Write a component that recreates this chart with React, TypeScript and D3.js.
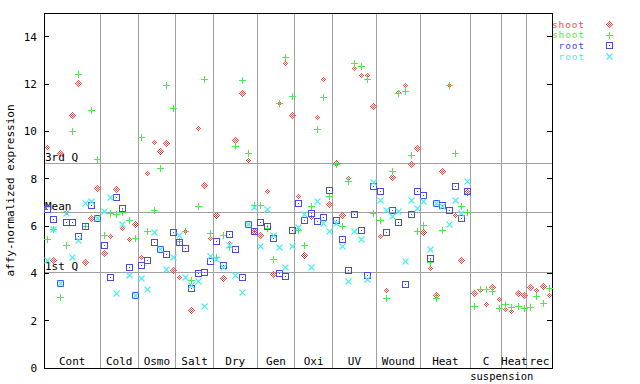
import React from "react";
import * as d3 from "d3";

// sample groups along the x axis (one column per sample)
const groups = ["Cont", "Cold", "Osmo", "Salt", "Dry", "Gen", "Oxi", "UV", "Wound", "Heat", "C", "Heat", "rec"];
const groupSizes = [9, 6, 6, 6, 7, 6, 6, 7, 7, 8, 5, 4, 4];

// shoot replicate 1 (red diamond)
const shootA = [
  9.33, 4.55, 9.07, 6.6, 10.67, 12.06, 4.47, 6.32, 7.6,
  4.88, 5.56, 7.55, 5.93, 5.43, 6.08,
  4.67, 8.22, 9.57, 9.15, 9.49, 4.12,
  3.83, 5.77, 2.45, 10.13, 7.72, 5.48,
  6.45, 3.79, 5.27, 9.63, 11.6, 8.77, 5.77,
  5.6, 7.5, 3.97, 11.18, 12.9, 10.67,
  7.25, 4.76, 6.36, 10.59, 12.23, 6.95,
  8.68, 6.45, 8.01, 12.68, 12.36, 12.36, 11.09,
  5.56, 3.29, 8.09, 11.67, 11.95, 8.64, 9.28,
  5.73, 4.21, 3.08, 8.31, 11.95, 6.46, 4.55, 7.42,
  3.19, 3.29, 2.69, 3.41, 2.9,
  2.49, 2.39, 3.17, 3.07,
  3.42, 3.29, 3.46, 3.07,
];
// shoot replicate 2 (green plus)
const shootB = [
  5.45, 5.88, 3.01, 5.18, 10.0, 12.44, 6.02, 10.92, 8.85,
  5.6, 6.57, 6.49, 6.59, 6.24, 5.48,
  9.74, 5.77, 6.66, 8.47, 11.94, 10.97,
  5.35, 5.77, 3.72, 6.83, 12.23, 5.69,
  4.68, 5.6, 5.1, 9.38, 12.19, 9.07, 6.87,
  6.87, 5.9, 4.59, 11.18, 13.12, 11.49,
  5.83, 5.18, 6.83, 10.08, 11.47, 7.25,
  8.61, 5.98, 7.92, 12.87, 12.75, 12.23, 6.53,
  6.24, 2.94, 8.31, 11.6, 11.71, 9.02, 5.77,
  6.04, 4.48, 2.94, 5.81, 11.95, 9.07, 6.84, 6.6,
  2.6, 3.33, 3.33, 3.24, 2.53,
  2.7, 2.57, 2.6, 2.55,
  2.57, 3.03, 2.73, 3.38,
];
// root replicate 1 (blue square)
const rootA: (number | null)[] = [
  6.73, 6.28, 3.6, 6.15, 6.15, 5.56, 6.02, 6.87, 6.32,
  5.18, 3.86, 7.22, 6.78, 4.25, 3.08,
  4.35, 4.55, 5.31, 5.02, 4.8, 5.76,
  5.31, 5.05, 3.36, 4.0, 4.04, 4.51,
  5.35, 4.36, 5.65, 5.01, 3.83, 6.07, 5.77,
  6.15, 5.98, 5.48, 4.0, 3.87, 5.83,
  6.99, 6.24, 6.53, 6.21, 6.4, 7.54,
  6.25, 5.43, 4.12, 6.49, 5.85, 3.95, 7.67,
  7.5, 5.73, 6.66, 6.15, 3.57, 6.49, 7.5,
  7.29, 4.63, 6.99, 6.9, 6.66, 7.67, 6.32, 7.5,
  null, null, null, null, null,
  null, null, null, null,
  null, null, null, null,
];
// root replicate 2 (cyan cross)
const rootB: (number | null)[] = [
  4.55, 5.88, 3.6, 6.57, 4.67, 5.4, 6.99, 7.04, 6.32,
  6.64, 7.22, 3.15, 6.07, 3.93, 3.08,
  3.79, 3.33, 5.73, 5.02, 4.17, 4.69,
  5.64, 3.83, 3.51, 3.66, 2.64, 4.75,
  4.59, 4.25, 5.2, 3.94, 3.2, 6.07, 6.8,
  5.14, 6.7, 5.6, 5.1, 4.25, 5.14,
  5.94, 6.5, 4.28, 7.05, 6.11, 5.77,
  6.11, 5.14, 3.66, 5.77, 5.43, 3.76, 7.84,
  7.08, 6.66, 6.42, 6.62, 4.5, 7.08, 6.78,
  7.04, 5.01, 6.99, 6.85, 6.07, 7.08, 6.57, 7.9,
  null, null, null, null, null,
  null, null, null, null,
  null, null, null, null,
];

const quartiles = [
  { label: "3rd Q", value: 8.65 },
  { label: "Mean", value: 6.58 },
  { label: "1st Q", value: 4.04 },
];

const yTicks = [0, 2, 4, 6, 8, 10, 12, 14];

const RED = "#ff4848";
const GREEN = "#48ee48";
const BLUE = "#4848ee";
const CYAN = "#48eeee";
const GRID = "#a0a0a0";
const FONT = "'DejaVu Sans Mono', monospace";

const series = [
  { name: "shoot", values: shootA, color: RED, shape: "diamond" },
  { name: "shoot", values: shootB, color: GREEN, shape: "plus" },
  { name: "root", values: rootA, color: BLUE, shape: "square" },
  { name: "root", values: rootB, color: CYAN, shape: "cross" },
];

const Marker = ({ shape, cx, cy, color }: { shape: string; cx: number; cy: number; color: string }) => {
  const x = Math.round(cx) + 0.5;
  const y = Math.round(cy) + 0.5;
  if (shape === "diamond") {
    return (
      <path
        d={`M${x},${y - 3.5}L${x + 3.5},${y}L${x},${y + 3.5}L${x - 3.5},${y}Z`}
        fill="url(#chk)"
        stroke="none"
      />
    );
  }
  if (shape === "plus") {
    return (
      <path d={`M${x - 3.5},${y}H${x + 3.5}M${x},${y - 3.5}V${y + 3.5}`} stroke={color} strokeWidth={1} />
    );
  }
  if (shape === "square") {
    return (
      <g>
        <rect x={x - 3} y={y - 3} width={6} height={6} fill="none" stroke={color} strokeWidth={1.3} />
        <rect x={x - 0.5} y={y - 0.5} width={1} height={1} fill={color} />
      </g>
    );
  }
  return (
    <path
      d={`M${x - 3},${y - 3}L${x + 3},${y + 3}M${x + 3},${y - 3}L${x - 3},${y + 3}`}
      stroke={color}
      strokeWidth={1.1}
      shapeRendering="auto"
    />
  );
};

export default function App() {
  const width = 640;
  const height = 384;
  const margin = { top: 13, right: 88, bottom: 16, left: 44 };
  const nSamples = d3.sum(groupSizes);

  const x = d3.scaleLinear().domain([0, nSamples]).range([margin.left, width - margin.right]);
  const y = d3.scaleLinear().domain([0, 15]).range([height - margin.bottom, margin.top]);

  const bounds = d3.cumsum(groupSizes);
  const starts = [0, ...Array.from(bounds).slice(0, -1)];

  const x0 = x(0), x1 = x(nSamples), y0 = y(0), y1 = y(15);

  return (
    <svg width={width} height={height} style={{ position: "absolute", left: 0, top: 0, background: "white" }}>
      <defs>
        <pattern id="chk" width={2} height={2} patternUnits="userSpaceOnUse">
          <rect x={0} y={0} width={1} height={1} fill={RED} />
          <rect x={1} y={1} width={1} height={1} fill={RED} />
        </pattern>
      </defs>
      <g shapeRendering="crispEdges">
        {/* group separators */}
        {Array.from(bounds).slice(0, -1).map((b, i) => (
          <line key={i} x1={x(b)} x2={x(b)} y1={y1} y2={y0} stroke={GRID} strokeWidth={1} />
        ))}
        {/* quartile lines */}
        {quartiles.map((q) => (
          <line key={q.label} x1={x0} x2={x1} y1={y(q.value)} y2={y(q.value)} stroke={GRID} strokeWidth={1} />
        ))}
        {/* frame */}
        <rect x={x0} y={y1} width={x1 - x0} height={y0 - y1} fill="none" stroke="black" strokeWidth={1} />
        {yTicks.map((t) => (
          <g key={t}>
            <line x1={x0} x2={x0 + 5} y1={y(t)} y2={y(t)} stroke="black" />
            <line x1={x1 - 5} x2={x1} y1={y(t)} y2={y(t)} stroke="black" />
          </g>
        ))}
      </g>
      <g fontFamily={FONT} fontSize={11} fill="black">
        {yTicks.map((t) => (
          <text key={t} x={x0 - 7} y={y(t) + 4} textAnchor="end">{t}</text>
        ))}
        <text transform={`translate(14,${(y0 + y1) / 2}) rotate(-90)`} textAnchor="middle">affy-normalized expression</text>
        {quartiles.map((q) => (
          <text key={q.label} x={x0 + 1} y={y(q.value) - 2}>{q.label}</text>
        ))}
        {groups.map((g, i) => (
          <text key={i} x={x(starts[i] + groupSizes[i] / 2)} y={y0 - 3} textAnchor="middle">{g}</text>
        ))}
        <text x={x(bounds[10])} y={y0 + 12} fontSize={10.5} textAnchor="middle">suspension</text>
      </g>
      {/* points */}
      <g shapeRendering="crispEdges">
        {series.map((s, si) =>
          s.values.map((v, i) =>
            v == null ? null : (
              <Marker key={`${si}-${i}`} shape={s.shape} cx={x(i + 0.5)} cy={y(v)} color={s.color} />
            )
          )
        )}
      </g>
      {/* legend */}
      <g fontFamily={FONT} fontSize={9.5}>
        {series.map((s, i) => {
          const ly = 24 + i * 10.7;
          return (
            <g key={i}>
              <text x={585} y={ly + 3.5} textAnchor="end" fill={s.color} letterSpacing={0.9}>{s.name}</text>
              <g shapeRendering="crispEdges">
                <Marker shape={s.shape} cx={609} cy={ly} color={s.color} />
              </g>
            </g>
          );
        })}
      </g>
    </svg>
  );
}
